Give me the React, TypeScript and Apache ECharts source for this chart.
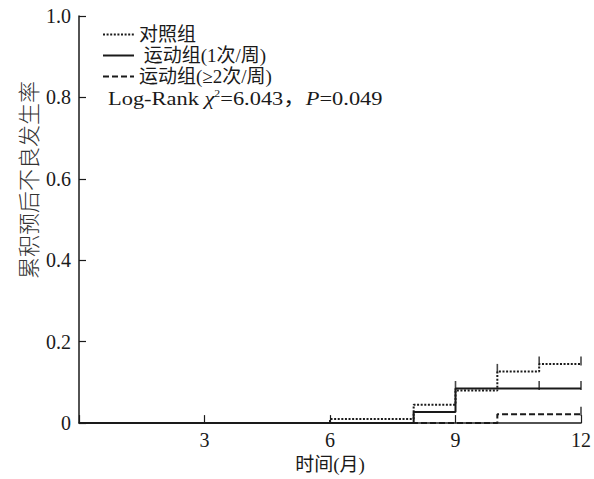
import React, { useEffect, useRef } from "react";
import * as echarts from "echarts";

// ---- data ----
const seriesNames = ["对照组", "运动组(1次/周)", "运动组(≥2次/周)"];
const xTickValues = [0, 3, 6, 9, 12];
const yTickValues = [0, 0.2, 0.4, 0.6, 0.8, 1.0];
// step points: [time (month), cumulative incidence after the step]
const controlSteps = [[0, 0], [6, 0.01], [8, 0.045], [9, 0.08], [10, 0.127], [11, 0.145], [12, 0.145]];
const oncePerWeekSteps = [[0, 0], [8, 0.027], [9, 0.085], [12, 0.085]];
const twicePerWeekSteps = [[0, 0], [10, 0.022], [12, 0.022]];
// censor marks
const controlCensor = [[10, 0.127], [11, 0.145], [12, 0.145]];
const oncePerWeekCensor = [[9, 0.085], [11, 0.085], [12, 0.085]];
const twicePerWeekCensor = [[12, 0.022]];
const statText = { chi2: "6.043", p: "0.049" };
const xAxisName = "时间(月)";
const yAxisName = "累积预后不良发生率";

const SERIF = "'Liberation Serif', 'Noto Sans CJK SC', serif";
const INK = "#1a1a1a";

export default function App() {
  const ref = useRef<HTMLDivElement>(null);
  useEffect(() => {
    if (!ref.current) return;
    const chart = echarts.init(ref.current, undefined, { renderer: "svg" });
    const censorSeries = (name: string, data: number[][]) => ({
      name,
      type: "scatter",
      data,
      symbol: "rect",
      symbolSize: [1.6, 9],
      symbolOffset: [0, -3],
      itemStyle: { color: INK },
      silent: true,
      z: 3,
    });
    chart.setOption({
      animation: false,
      backgroundColor: "#fff",
      grid: { left: 79, top: 16, width: 504, height: 409, containLabel: false },
      legend: {
        data: seriesNames,
        orient: "vertical",
        left: 97,
        top: 20,
        itemWidth: 31,
        itemHeight: 10,
        itemGap: 2,
        selectedMode: false,
        itemStyle: { opacity: 0 },
        formatter: (n: string) => (n === seriesNames[1] ? " " + n : n),
        textStyle: { fontFamily: SERIF, fontSize: 19, color: INK },
      },
      xAxis: {
        type: "value",
        min: xTickValues[0],
        max: xTickValues[xTickValues.length - 1],
        interval: 3,
        name: xAxisName,
        nameLocation: "middle",
        nameGap: 31,
        nameTextStyle: { fontFamily: SERIF, fontSize: 19, color: INK },
        axisLine: { lineStyle: { color: INK, width: 1.5 } },
        axisTick: { inside: true, length: 8, lineStyle: { color: INK, width: 1.2 } },
        axisLabel: {
          fontFamily: SERIF,
          fontSize: 20,
          color: INK,
          margin: 7,
          formatter: (v: number) => (v === 0 ? "" : String(v)),
        },
        splitLine: { show: false },
      },
      yAxis: {
        type: "value",
        min: yTickValues[0],
        max: yTickValues[yTickValues.length - 1],
        interval: 0.2,
        axisLine: { show: true, lineStyle: { color: INK, width: 1.5 } },
        axisTick: { show: true, inside: true, length: 7, lineStyle: { color: INK, width: 1.2 } },
        axisLabel: {
          fontFamily: SERIF,
          fontSize: 20,
          color: INK,
          margin: 8,
          formatter: (v: number) => (v === 0 ? "0" : v.toFixed(1)),
        },
        splitLine: { show: false },
      },
      series: [
        {
          name: seriesNames[0],
          type: "line",
          step: "end",
          data: controlSteps,
          symbol: "none",
          lineStyle: { color: INK, width: 2, type: [2, 1.6] },
          itemStyle: { color: INK },
          z: 2,
        },
        {
          name: seriesNames[1],
          type: "line",
          step: "end",
          data: oncePerWeekSteps,
          symbol: "none",
          lineStyle: { color: INK, width: 2, type: "solid" },
          itemStyle: { color: INK },
          z: 2,
        },
        {
          name: seriesNames[2],
          type: "line",
          step: "end",
          data: twicePerWeekSteps,
          symbol: "none",
          lineStyle: { color: INK, width: 2, type: [6, 3] },
          itemStyle: { color: INK },
          z: 2,
        },
        censorSeries("对照组删失", controlCensor),
        censorSeries("运动组(1次/周)删失", oncePerWeekCensor),
        censorSeries("运动组(≥2次/周)删失", twicePerWeekCensor),
      ],
      graphic: [
        {
          type: "text",
          x: 108,
          y: 88,
          scaleX: 1.18,
          style: {
            text: `{a|Log-Rank }{i|χ}{s|2}{a|=${statText.chi2}，}{i|P}{a|=${statText.p}}`,
            rich: {
              a: { fontFamily: SERIF, fontSize: 19, fill: INK, lineHeight: 21 },
              i: { fontFamily: SERIF, fontSize: 19, fontStyle: "italic", fill: INK, lineHeight: 21 },
              s: { fontFamily: SERIF, fontSize: 10, fill: INK, verticalAlign: "top", lineHeight: 21 },
            },
          },
        },
        {
          type: "text",
          x: 27,
          y: 180,
          rotation: Math.PI / 2,
          style: {
            text: yAxisName,
            fontFamily: "'Noto Sans CJK SC', sans-serif",
            fontSize: 22,
            fontWeight: 300,
            fill: "#333",
            align: "center",
            verticalAlign: "middle",
          },
        },
      ],
    });
    return () => chart.dispose();
  }, []);
  return (
    <div
      ref={ref}
      style={{ position: "fixed", left: 0, top: 0, width: 594, height: 479 }}
    />
  );
}
